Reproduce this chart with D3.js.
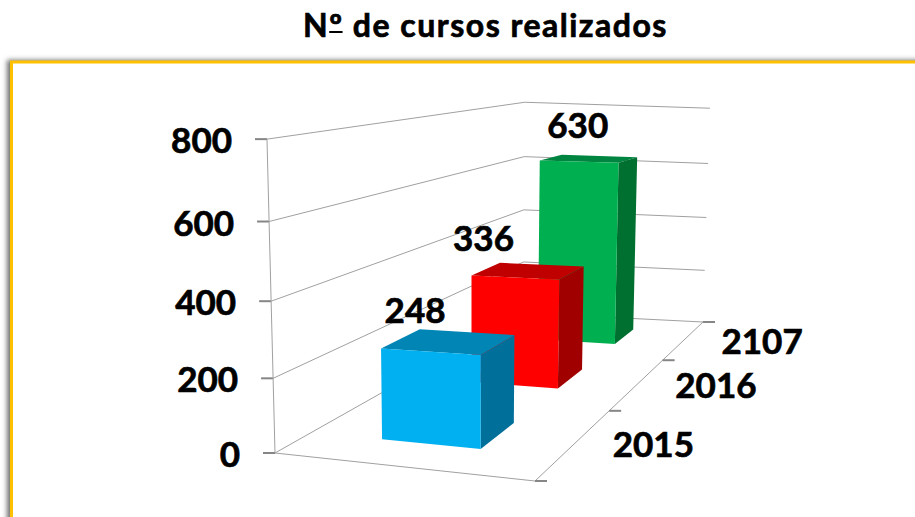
<!DOCTYPE html>
<html>
<head>
    <title>Cursos realizados</title>
    <meta charset="utf-8">
    <script src="https://cdn.jsdelivr.net/npm/d3@7"></script>
    <style>
        html, body { margin: 0; padding: 0; background: #fff; overflow: hidden; }
        svg { display: block; }
        text { font-family: Lato, "Open Sans", sans-serif; font-weight: 700; fill: #000; stroke: #000; stroke-width: 0.7px; }
        line.grid { stroke: #a0a0a0; stroke-width: 1px; }
        line.tick { stroke: #868686; stroke-width: 2px; }
    </style>
</head>
<body>
    <svg width="915" height="517"></svg>

    <script>
        var chartTitle = "Nº de cursos realizados";
        var categories = ["2015", "2016", "2107"];
        var values = [248, 336, 630];
        var valueTicks = [0, 200, 400, 600, 800];
        var frontColors = ["#00b0f0", "#ff0000", "#00b050"];
        var topColors = ["#0085b5", "#c00000", "#008540"];
        var sideColors = ["#00709b", "#a00000", "#007030"];
        // data labels were moved by hand in the original, relative to the bar's front left corner
        var labelShift = [[34, -37], [12, -36], [38, -34]];

        var svg = d3.select("svg");

        // Floor corners on screen: front left, front right, back right, back left
        var A = [275, 453], B = [535, 481], C = [703, 322], D = [523, 313];

        // Square to quad perspective for the floor
        var dx1 = B[0] - C[0], dx2 = D[0] - C[0], sx = A[0] - B[0] + C[0] - D[0];
        var dy1 = B[1] - C[1], dy2 = D[1] - C[1], sy = A[1] - B[1] + C[1] - D[1];
        var den = dx1 * dy2 - dx2 * dy1;
        var g = (sx * dy2 - dx2 * sy) / den;
        var h = (dx1 * sy - sx * dy1) / den;
        var a = B[0] - A[0] + g * B[0], b = D[0] - A[0] + h * D[0];
        var d = B[1] - A[1] + g * B[1], e = D[1] - A[1] + h * D[1];

        var wallHeight = 294, heightBend = -0.0633, backFix = 0.05;
        var leanCenter = 464, lean = 1.35e-4;

        // u: along the front edge, v: depth, t: height, all 0..1
        function project(u, v, t)
        {
            var w = g * u + h * v + 1;
            var fx = (a * u + b * v + A[0]) / w;
            var fy = (d * u + e * v + A[1]) / w;
            var H = wallHeight * (1 + backFix * v * (1 - u)) * t / (w + heightBend * t);
            return [fx + (fx - leanCenter) * lean * H, fy - H];
        }

        var yScale = d3.scaleLinear().domain([0, 800]).range([0, 1]);
        var depthScale = d3.scaleBand().domain(categories).range([0, 1]).paddingInner(0.61).paddingOuter(0.305);
        var widthScale = d3.scaleBand().domain(["cursos"]).range([0, 1]).paddingOuter(0.76);

        var polygon = d3.line();

        // Frame
        var defs = svg.append("defs");
        var blur = defs.append("filter").attr("id", "frameShadow")
            .attr("x", "-5%").attr("y", "-5%").attr("width", "110%").attr("height", "110%");
        blur.append("feGaussianBlur").attr("stdDeviation", 2.5);

        svg.append("rect").attr("x", 7).attr("y", 60).attr("width", 1000).attr("height", 600)
            .attr("fill", "#707070").attr("filter", "url(#frameShadow)");
        svg.append("rect").attr("x", 11.5).attr("y", 62).attr("width", 1000).attr("height", 600)
            .attr("fill", "#fff").attr("stroke", "#ffc000").attr("stroke-width", 3);

        var title = svg.append("text")
            .attr("x", 485.5).attr("y", 37)
            .attr("text-anchor", "middle")
            .attr("font-size", 32)
            .attr("letter-spacing", 1.5)
            .text(chartTitle);

        // the ordinal sign is underlined in the original
        var ordStart = title.node().getStartPositionOfChar(1);
        var ordEnd = title.node().getEndPositionOfChar(1);
        svg.append("line")
            .attr("x1", ordStart.x).attr("x2", ordEnd.x - 1)
            .attr("y1", 32).attr("y2", 32)
            .attr("stroke", "#000").attr("stroke-width", 2);

        function drawLine(p, q, cls)
        {
            svg.append("line").attr("class", cls)
                .attr("x1", p[0]).attr("y1", p[1])
                .attr("x2", q[0]).attr("y2", q[1]);
        }

        // Walls
        valueTicks.forEach(function (tick)
        {
            var t = yScale(tick);
            var left = project(0, 0, t), corner = project(0, 1, t), right = project(1, 1, t);
            drawLine(left, corner, "grid");
            drawLine(corner, right, "grid");
            drawLine([left[0] - 12, left[1]], left, "tick");

            svg.append("text")
                .attr("x", left[0] - 35).attr("y", left[1] + 14)
                .attr("text-anchor", "end")
                .attr("font-size", 35)
                .text(tick);
        });
        drawLine(project(0, 0, 0), project(0, 0, 1), "grid");

        // Floor edges and depth ticks
        drawLine(project(0, 0, 0), project(1, 0, 0), "grid");
        drawLine(project(1, 0, 0), project(1, 1, 0), "grid");
        d3.range(categories.length + 1).forEach(function (i)
        {
            var p = project(1, i / categories.length, 0);
            drawLine(p, [p[0] + 12, p[1]], "tick");
        });

        // Bars, back to front
        d3.range(categories.length).reverse().forEach(function (i)
        {
            var v0 = depthScale(categories[i]), v1 = v0 + depthScale.bandwidth();
            var u0 = widthScale("cursos"), u1 = u0 + widthScale.bandwidth();
            var t = yScale(values[i]);

            svg.append("path").attr("fill", topColors[i]).attr("d", polygon([
                project(u0, v0, t), project(u1, v0, t), project(u1, v1, t), project(u0, v1, t)]) + "Z");
            svg.append("path").attr("fill", sideColors[i]).attr("d", polygon([
                project(u1, v0, t), project(u1, v1, t), project(u1, v1, 0), project(u1, v0, 0)]) + "Z");
            svg.append("path").attr("fill", frontColors[i]).attr("d", polygon([
                project(u0, v0, t), project(u1, v0, t), project(u1, v0, 0), project(u0, v0, 0)]) + "Z");
        });

        // Labels go on top of everything
        categories.forEach(function (cat, i)
        {
            var v0 = depthScale(cat), u0 = widthScale("cursos");
            var corner = project(u0, v0, yScale(values[i]));
            svg.append("text")
                .attr("x", corner[0] + labelShift[i][0]).attr("y", corner[1] + labelShift[i][1] + 12)
                .attr("text-anchor", "middle")
                .attr("font-size", 35)
                .text(values[i]);

            var edge = project(1, v0 + depthScale.bandwidth() / 2, 0);
            svg.append("text")
                .attr("x", edge[0] + 78).attr("y", edge[1] + 14)
                .attr("text-anchor", "middle")
                .attr("font-size", 35)
                .text(cat);
        });
    </script>
</body>
</html>
